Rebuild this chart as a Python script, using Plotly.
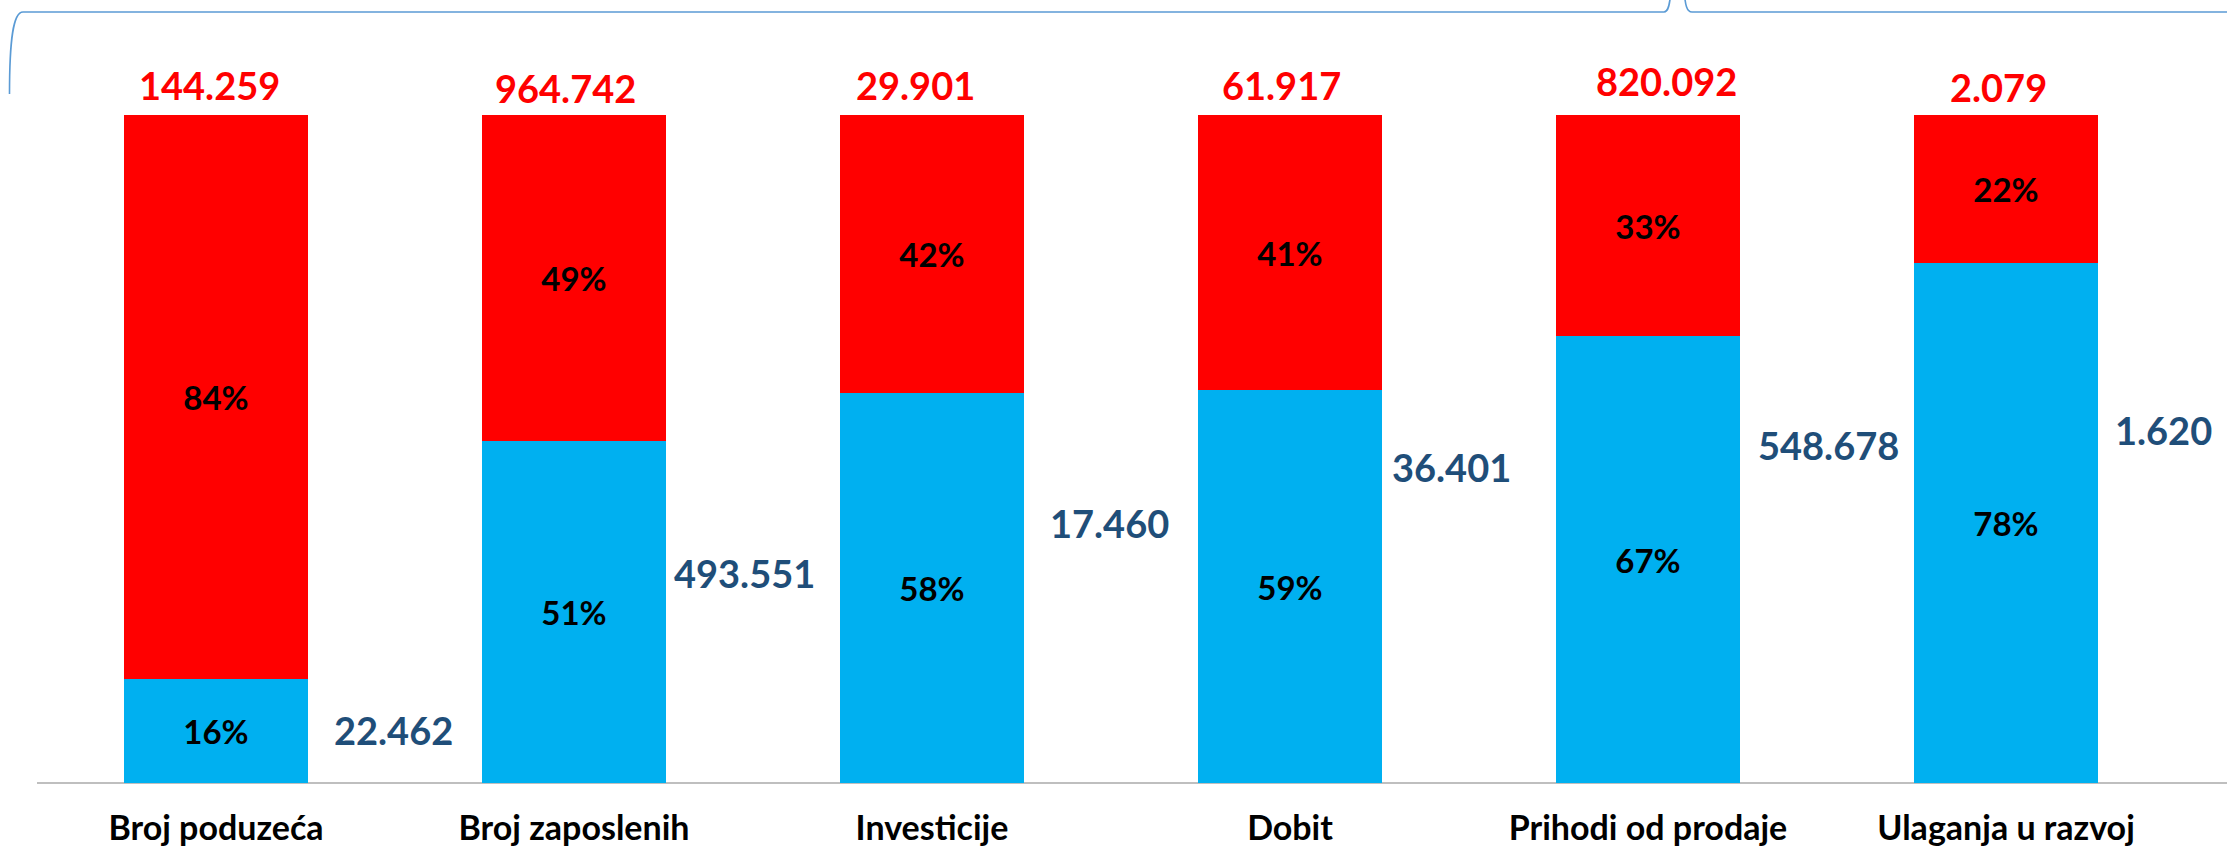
import plotly.graph_objects as go

# ---------------- data ----------------
categories = ["Broj poduzeća", "Broj zaposlenih", "Investicije", "Dobit",
              "Prihodi od prodaje", "Ulaganja u razvoj"]
totals = [144259, 964742, 29901, 61917, 820092, 2079]        # red labels on top
blue_values = [22462, 493551, 17460, 36401, 548678, 1620]    # blue labels beside bars

# ---------------- derived ----------------
blue_share = [b / t * 100 for b, t in zip(blue_values, totals)]
red_share = [100 - s for s in blue_share]


def fmt(v):
    return f"{v:,}".replace(",", ".")


# ---------------- layout / style ----------------
W, H = 2227, 849
ML, MR, MT, MB = 37, 42, 0, 66
PW, PH = W - ML - MR, H - MT - MB
Y_TOP = 100 * PH / 667.7          # so that 100 % sits at ~115 px

FONT = "Lato"
BLUE, RED = "#00B0F0", "#FF0000"
DARK_BLUE = "#1F4E79"
BRACE = "#5B9BD5"

# label placement (manual text boxes in the original)
total_dx = [-0.017, -0.024, -0.046, -0.024, 0.053, -0.022]
total_shift = [30, 27, 30, 30, 34, 28]
side_dx = [0.325, 0.275, 0.325, 0.278, 0.303, 0.300]
side_y = [8.0, 31.4, 38.9, 47.3, 50.6, 52.8]


def px(x):
    return (x - ML) / PW


def py(y):
    return (H - MB - y) / PH


fig = go.Figure()
fig.add_trace(go.Bar(
    x=categories, y=blue_share, marker=dict(color=BLUE, line=dict(width=0)),
    text=[f"{round(s)}%" for s in blue_share], texttemplate="%{text}",
    textposition="inside", insidetextanchor="middle", textangle=0,
    constraintext="none",
    textfont=dict(family=FONT, size=33, color="black", weight="bold"),
    hoverinfo="skip", showlegend=False))
fig.add_trace(go.Bar(
    x=categories, y=red_share, marker=dict(color=RED, line=dict(width=0)),
    text=[f"{round(s)}%" for s in red_share], texttemplate="%{text}",
    textposition="inside", insidetextanchor="middle", textangle=0,
    constraintext="none",
    textfont=dict(family=FONT, size=33, color="black", weight="bold"),
    hoverinfo="skip", showlegend=False))

annotations = []
for i, t in enumerate(totals):
    annotations.append(dict(
        x=i + total_dx[i], y=100, xref="x", yref="y", text=fmt(t),
        showarrow=False, xanchor="center", yanchor="middle", yshift=total_shift[i],
        font=dict(family=FONT, size=38, color=RED, weight="bold")))
for i, b in enumerate(blue_values):
    annotations.append(dict(
        x=i + side_dx[i], y=side_y[i], xref="x", yref="y", text=fmt(b),
        showarrow=False, xanchor="left", yanchor="middle",
        font=dict(family=FONT, size=38, color=DARK_BLUE, weight="bold")))

brace_path = (
    f"M {px(9.5)},{py(94)} C {px(9.5)},{py(40)} {px(13)},{py(12)} {px(23)},{py(12)} "
    f"L {px(1664)},{py(12)} C {px(1668)},{py(12)} {px(1670)},{py(6)} {px(1671)},{py(-12)} "
    f"L {px(1684)},{py(-12)} C {px(1685)},{py(6)} {px(1687)},{py(12)} {px(1692)},{py(12)} "
    f"L {px(2240)},{py(12)}"
)

shapes = [
    dict(type="path", xref="paper", yref="paper", path=brace_path,
         line=dict(color=BRACE, width=1.6)),
    dict(type="line", xref="paper", yref="paper", x0=0, x1=px(W), y0=0, y1=0,
         line=dict(color="#BFBFBF", width=2), layer="below"),
]

fig.update_layout(
    width=W, height=H,
    margin=dict(l=ML, r=MR, t=MT, b=MB, autoexpand=False),
    paper_bgcolor="white", plot_bgcolor="white",
    barmode="stack", bargap=0.486,
    showlegend=False,
    annotations=annotations, shapes=shapes,
    xaxis=dict(type="category", showgrid=False, zeroline=False, showline=False,
               ticks="", ticklabelstandoff=22, automargin=False,
               tickfont=dict(family=FONT, size=34, color="black", weight="bold"),
               range=[-0.5, 5.5]),
    yaxis=dict(range=[0, Y_TOP], visible=False, showgrid=False, zeroline=False,
               automargin=False),
)

fig.write_html(
    "out.html",
    config={"displayModeBar": False, "staticPlot": True},
    post_script="document.body.style.margin='0';document.body.style.overflow='hidden';",
)
